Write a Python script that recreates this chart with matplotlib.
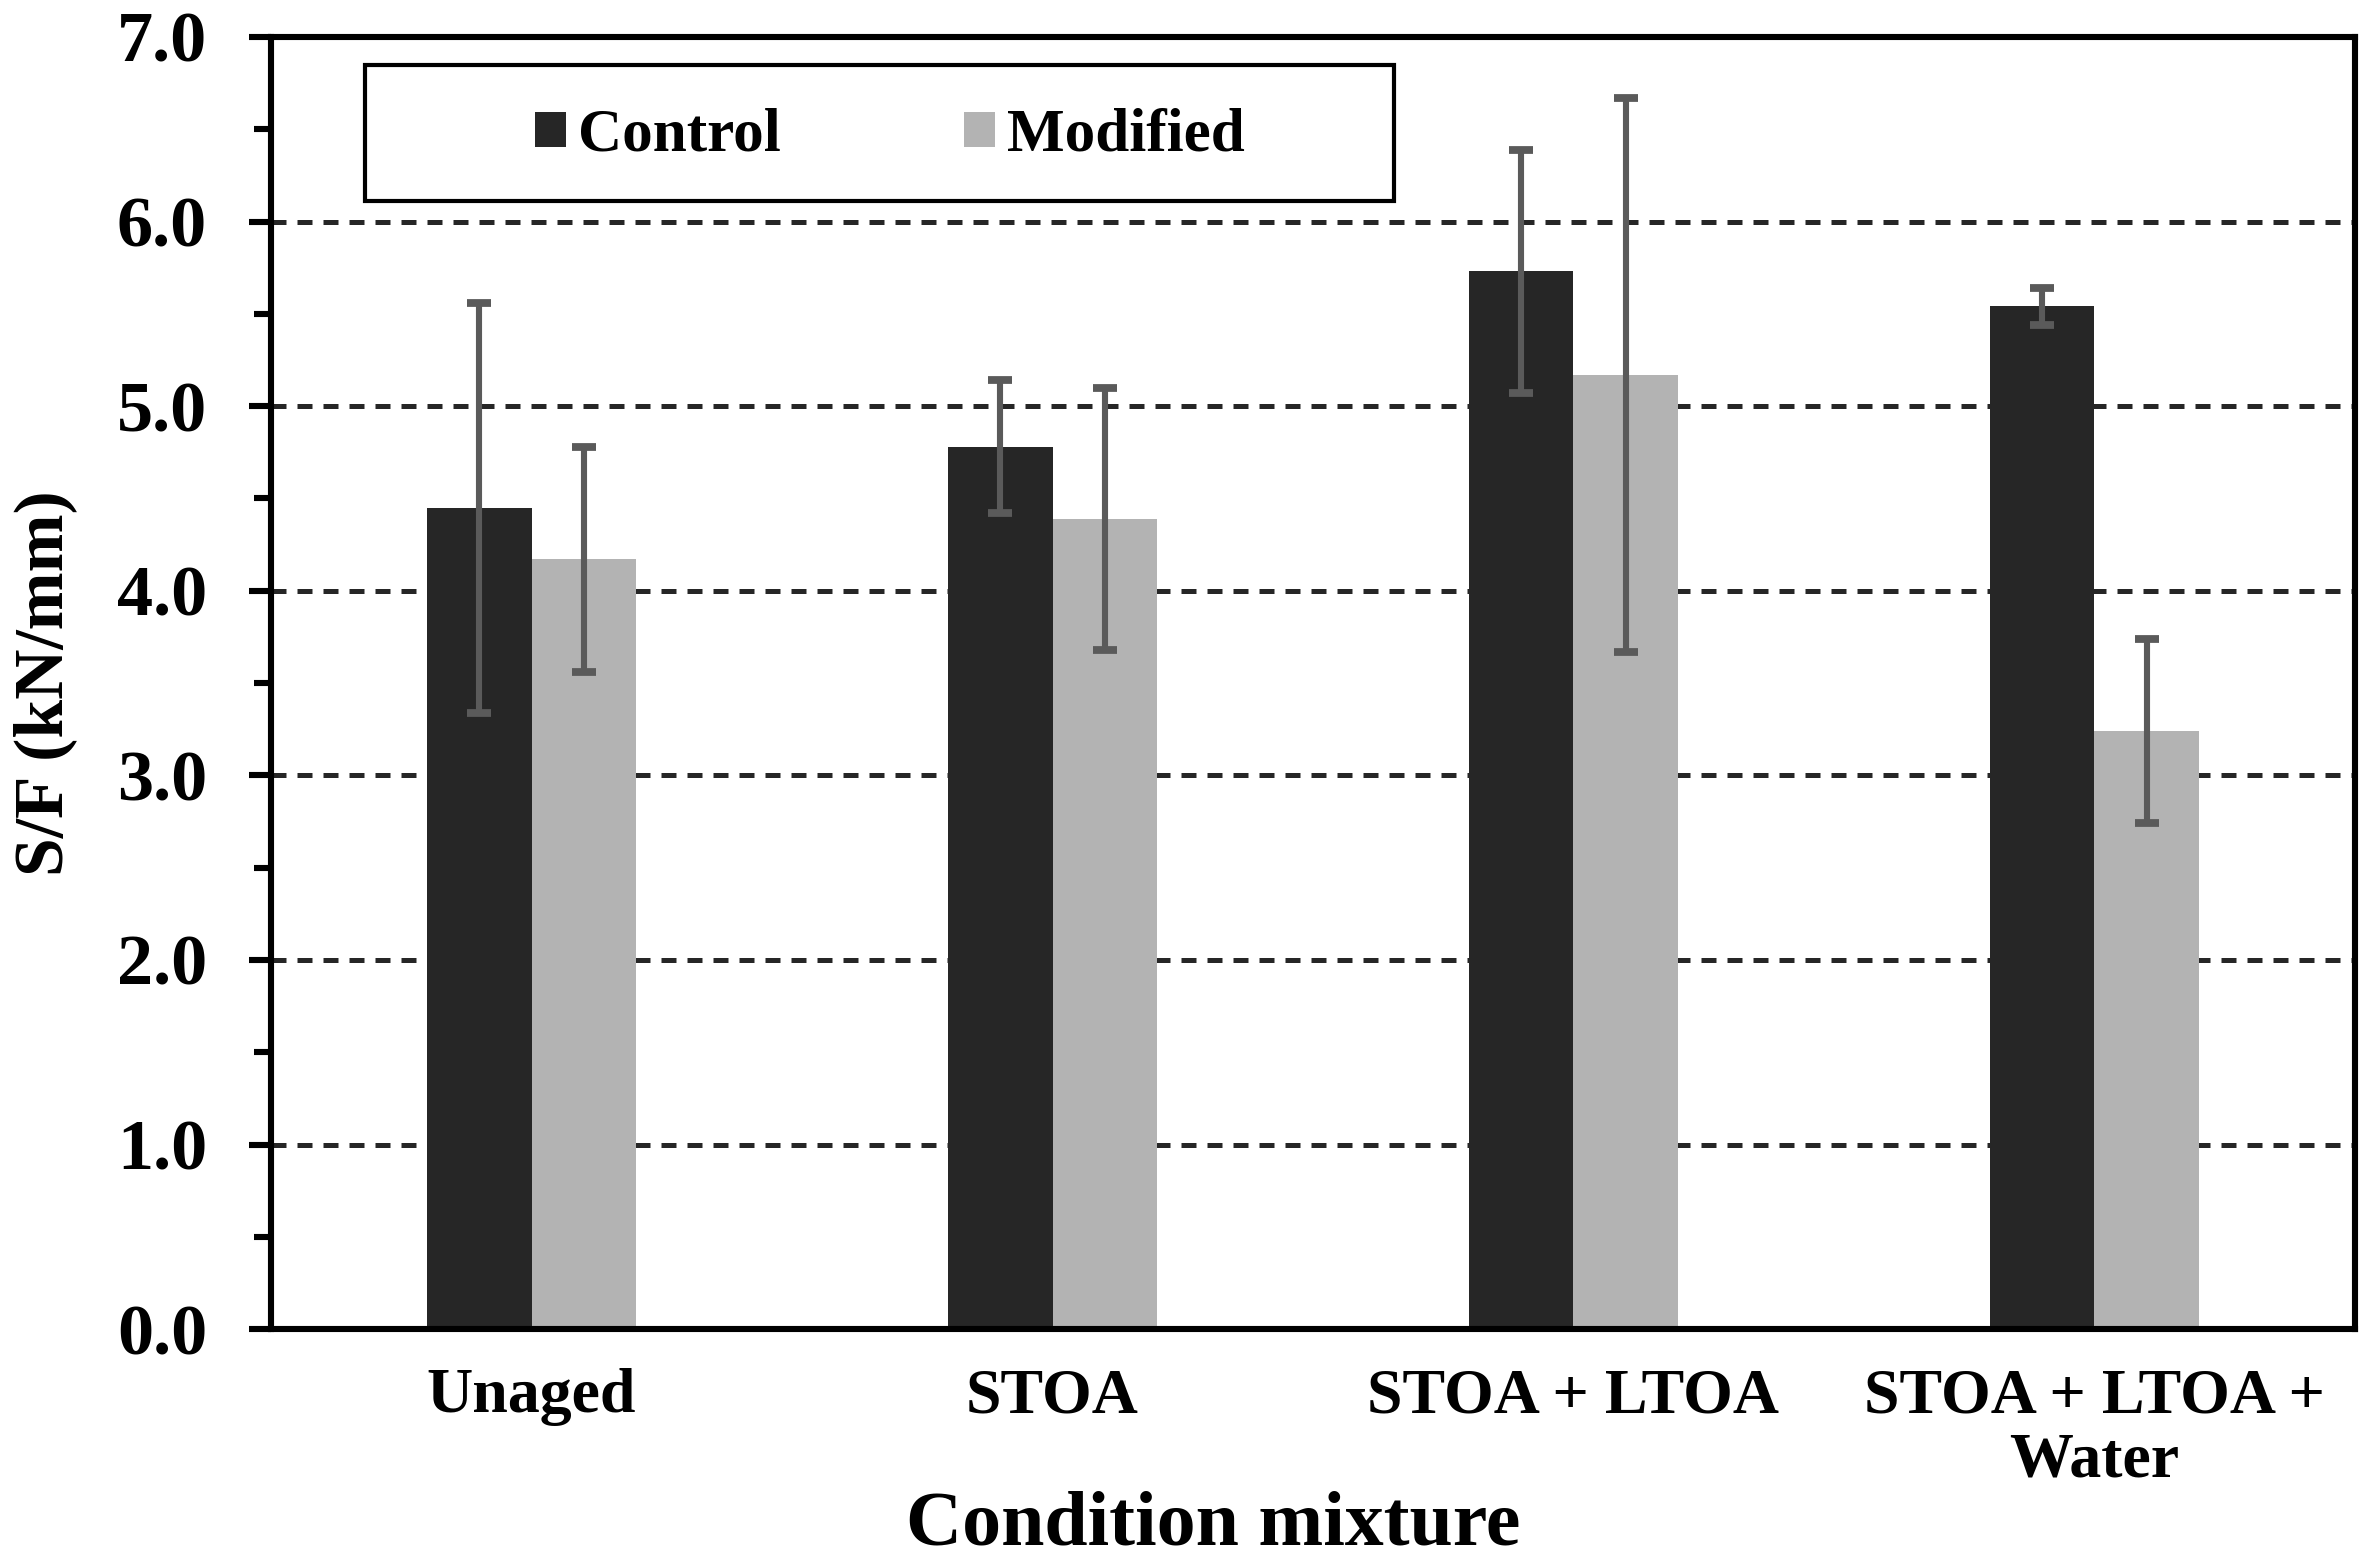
import matplotlib
matplotlib.use("Agg")
import matplotlib.pyplot as plt
from matplotlib.patches import Rectangle
import numpy as np

conditions = ["Unaged", "STOA", "STOA + LTOA", "STOA + LTOA +\nWater"]
control = [4.45, 4.78, 5.73, 5.54]
control_err = [1.11, 0.36, 0.66, 0.10]
modified = [4.17, 4.39, 5.17, 3.24]
modified_err = [0.61, 0.71, 1.50, 0.50]

plt.rcParams['font.family'] = ['Liberation Serif', 'DejaVu Serif']
plt.rcParams['font.weight'] = 'bold'

fig = plt.figure(figsize=(11.86, 7.8), dpi=200)
ax = fig.add_axes([0.1143, 0.148, 0.8785, 0.8283])

x = np.arange(len(conditions))
w = 0.2
err_kw = dict(ecolor='#5a5a5a', elinewidth=2.2, capsize=4.2, capthick=2.8)
b1 = ax.bar(x - w/2, control, w, yerr=control_err, color='#262626',
            label='Control', error_kw=err_kw, zorder=2)
b2 = ax.bar(x + w/2, modified, w, yerr=modified_err, color='#b3b3b3',
            label='Modified', error_kw=err_kw, zorder=2)

ax.set_xlim(-0.5, 3.5)
ax.set_ylim(0, 7)
ax.set_yticks(np.arange(0, 7.1, 1.0))
ax.set_yticks(np.arange(0.5, 7, 1.0), minor=True)
ax.set_yticklabels(["%.1f" % v for v in np.arange(0, 7.1, 1.0)], fontsize=26, fontweight='bold')
ax.set_xticks(x)
ax.set_xticklabels(conditions, fontsize=23, fontweight='bold', linespacing=1.15)
ax.tick_params(axis='x', length=0, pad=14)
ax.tick_params(axis='y', which='major', length=8, width=2.2, direction='out', pad=15)
ax.tick_params(axis='y', which='minor', length=6, width=2.2, direction='out')

for s in ax.spines.values():
    s.set_linewidth(2.2)
    s.set_color('black')

ax.set_axisbelow(True)
ax.yaxis.grid(True, which='major', color='#262626', linewidth=1.8, linestyle=(0, (3, 2.2)))

ax.set_xlabel("Condition mixture", fontsize=28, fontweight='bold')
ax.xaxis.set_label_coords(0.452, -0.125)
ax.set_ylabel("S/F (kN/mm)", fontsize=25, fontweight='bold')
ax.yaxis.set_label_coords(-0.093, 0.5)

ax.add_patch(Rectangle((0.045, 0.873), 0.494, 0.105, transform=ax.transAxes,
                       fill=True, facecolor='white', edgecolor='black', linewidth=1.5, zorder=3))
leg = ax.legend(loc='center', bbox_to_anchor=(0.297, 0.9235), ncol=2, frameon=False,
                handlelength=0.5, handleheight=0.5, handletextpad=0.2,
                columnspacing=3.0, prop={'weight': 'bold', 'size': 22})
leg.set_zorder(4)

fig.savefig("out.png", dpi=200)
